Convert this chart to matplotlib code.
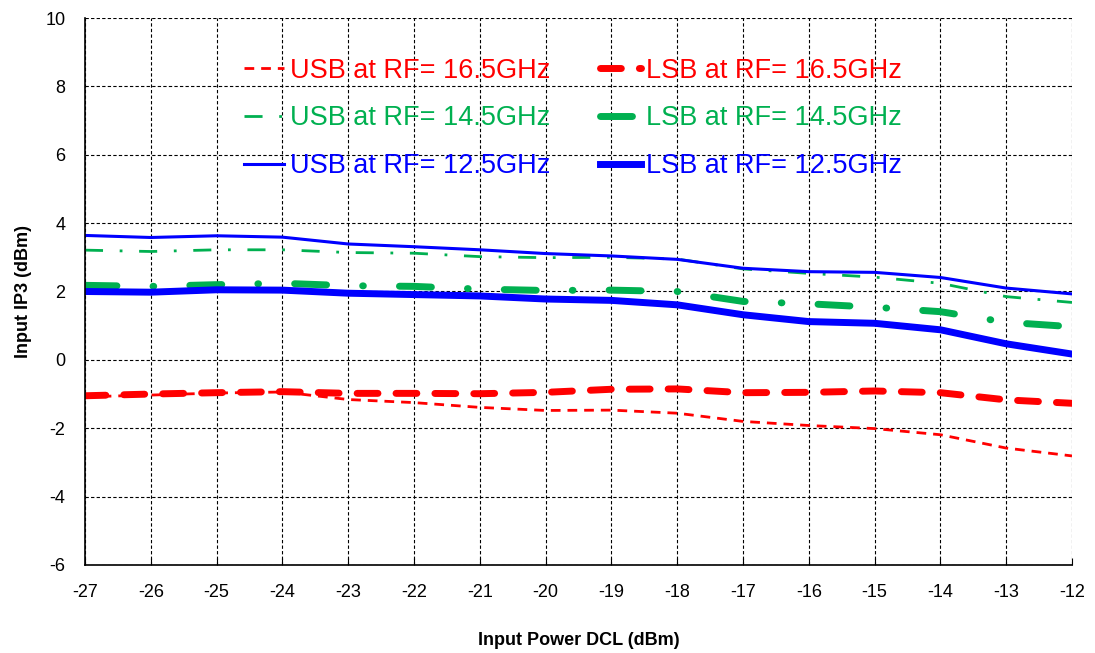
# Input IP3 vs input power for USB / LSB at three RF frequencies
import numpy as np
import matplotlib.pyplot as plt

plt.rcParams['font.family'] = ['Liberation Sans', 'DejaVu Sans']
plt.rcParams['axes.unicode_minus'] = False

# data
pin = [-27, -26, -25, -24, -23, -22, -21, -20, -19, -18, -17, -16, -15, -14, -13, -12]

usb_165 = [-1.08, -1.03, -0.97, -0.94, -1.16, -1.25, -1.39, -1.48, -1.47, -1.56, -1.80, -1.92, -2.01, -2.19, -2.58, -2.81]
lsb_165 = [-1.05, -1.00, -0.96, -0.93, -0.98, -0.98, -0.99, -0.95, -0.86, -0.85, -0.96, -0.95, -0.91, -0.96, -1.17, -1.27]
usb_145 = [3.21, 3.17, 3.22, 3.22, 3.14, 3.12, 3.02, 2.99, 3.00, 2.95, 2.66, 2.53, 2.42, 2.24, 1.85, 1.68]
lsb_145 = [2.18, 2.15, 2.20, 2.24, 2.17, 2.15, 2.07, 2.03, 2.04, 2.00, 1.71, 1.64, 1.54, 1.41, 1.10, 0.97]
usb_125 = [3.64, 3.58, 3.63, 3.59, 3.39, 3.31, 3.22, 3.11, 3.04, 2.94, 2.68, 2.58, 2.56, 2.41, 2.10, 1.93]
lsb_125 = [2.00, 1.98, 2.05, 2.04, 1.95, 1.91, 1.87, 1.78, 1.74, 1.61, 1.32, 1.12, 1.07, 0.88, 0.47, 0.17]

red = '#FF0000'
green = '#00B050'
blue = '#0000FF'

fig = plt.figure(figsize=(10.95, 6.53), dpi=100)
ax = fig.add_axes([0.0776, 0.1348, 0.9014, 0.8376])

# thin = USB, thick = LSB
ax.plot(pin, usb_165, color=red, lw=2.0, ls=(0, (3.5, 2.5)), label='USB at RF= 16.5GHz')
ax.plot(pin, usb_145, color=green, lw=2.0, ls=(0, (6.5, 6, 1, 6)), label='USB at RF= 14.5GHz')
ax.plot(pin, usb_125, color=blue, lw=2.2, ls='-', label='USB at RF= 12.5GHz')
ax.plot(pin, lsb_165, color=red, lw=5, ls=(0, (3, 2.6)), dash_capstyle='round', label='LSB at RF= 16.5GHz')
ax.plot(pin, lsb_145, color=green, lw=5, ls=(0, (4.6, 5.2, 0.1, 5.2)), dash_capstyle='round', label='LSB at RF= 14.5GHz')
ax.plot(pin, lsb_125, color=blue, lw=5, ls='-', label='LSB at RF= 12.5GHz')

ax.set_xlim(-27, -12)
ax.set_ylim(-6, 10)
ax.set_xticks(np.arange(-27, -11, 1))
ax.set_yticks(np.arange(-6, 11, 2))
ax.grid(True, color='black', ls=(0, (3, 2)), lw=0.8)
ax.set_axisbelow(True)
for s in ['top', 'right']:
    ax.spines[s].set_visible(False)
ax.spines['left'].set_linewidth(1.2)
ax.spines['bottom'].set_linewidth(1.2)
ax.tick_params(axis='x', direction='in', length=5, labelsize=13, pad=14)
ax.tick_params(axis='y', length=0, labelsize=13, pad=14)

ax.set_xlabel('Input Power DCL (dBm)', fontsize=13, fontweight='bold', labelpad=22)
ax.set_ylabel('Input IP3 (dBm)', fontsize=13, fontweight='bold', labelpad=10)

leg = ax.legend(ncol=2, loc='upper left', bbox_to_anchor=(0.136, 0.972), frameon=False,
                fontsize=19.5, handlelength=1.5, handletextpad=0.2, columnspacing=1.85,
                labelspacing=0.8)
for txt, line in zip(leg.get_texts(), leg.get_lines()):
    txt.set_color(line.get_color())

fig.savefig('out.png', dpi=100)
